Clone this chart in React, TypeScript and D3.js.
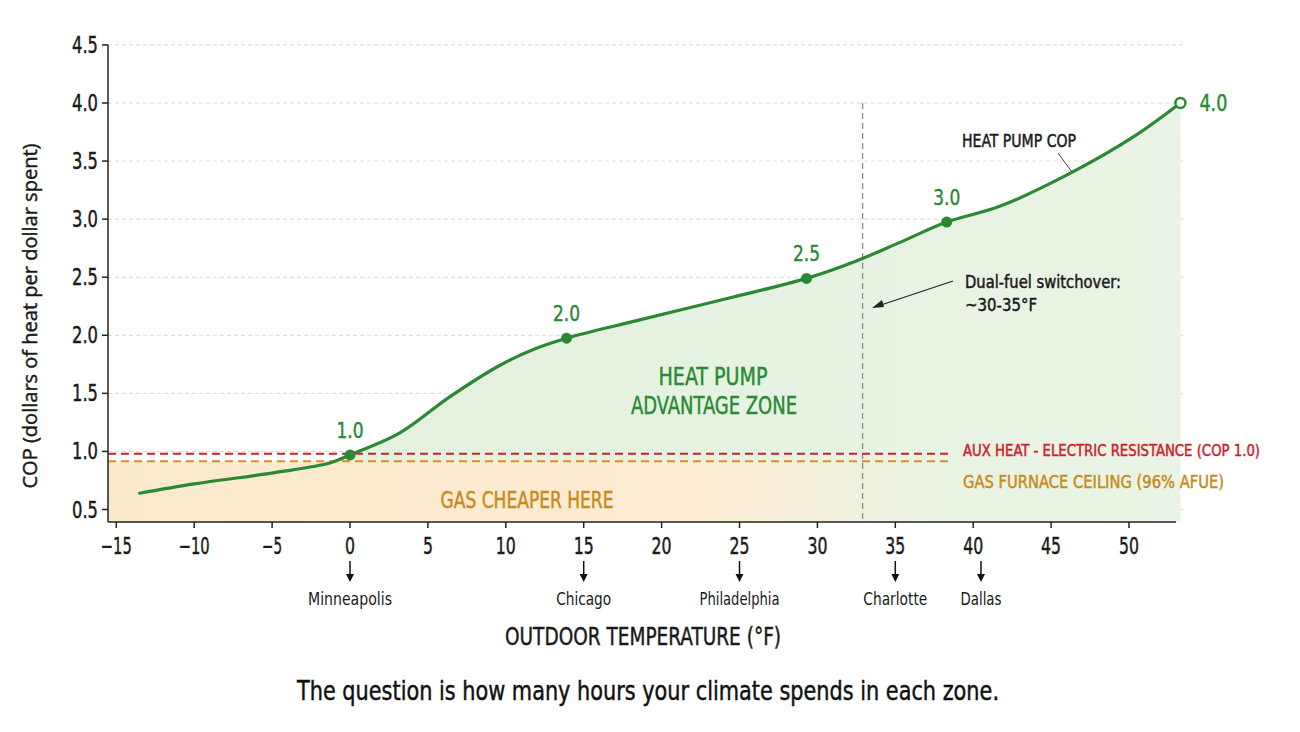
import React from "react";
import * as d3 from "d3";

const yTicks = [0.5, 1.0, 1.5, 2.0, 2.5, 3.0, 3.5, 4.0, 4.5];
const xTicks = [-15, -10, -5, 0, 5, 10, 15, 20, 25, 30, 35, 40, 45, 50];
const copTemps = [-13.5, -10, -4.75, -1.3, 0, 3.2, 6.4, 9.6, 11.8, 13.9, 18.2, 24.6, 29.3, 32.5, 35.3, 38.3, 41.7, 46.3, 50.3, 53.3];
const copValues = [0.64, 0.72, 0.82, 0.9, 0.97, 1.16, 1.47, 1.74, 1.88, 1.975, 2.12, 2.33, 2.49, 2.64, 2.8, 2.975, 3.11, 3.4, 3.71, 4.0];
const markedTemps = [0, 13.9, 29.3, 38.3];
const markedValues = [0.97, 1.975, 2.49, 2.975];
const markedLabels = ["1.0", "2.0", "2.5", "3.0"];
const cities = ["Minneapolis", "Chicago", "Philadelphia", "Charlotte", "Dallas"];
const cityTemps = [0, 15, 25, 35, 40.5];
const cityWidths = [84, 55, 80, 64, 41];
const auxLevel = 0.98;
const gasLevel = 0.915;
const switchover = 32.9;

const FONT = "'Liberation Sans Narrow', 'DejaVu Sans Condensed', 'Roboto', sans-serif";
const GREEN = "#2a8a34";
const RED = "#d0202a";
const ORANGE = "#c98a1c";

export default function App() {
  const W = 1300, H = 732;
  const x = d3.scaleLinear().domain([0, 50]).range([350, 1129]);
  const y = d3.scaleLinear().domain([0.5, 4.0]).range([509.5, 103]);
  const left = 108, right = 1176, bottom = 522;
  const pts: [number, number][] = copTemps.map((t, i) => [t, copValues[i]]);
  const curve = d3.curveCatmullRom.alpha(0.5);
  const line = d3.line<[number, number]>().x(d => x(d[0])).y(d => y(d[1])).curve(curve);
  const area = d3.area<[number, number]>().x(d => x(d[0])).y0(bottom).y1(d => y(d[1])).curve(curve);
  const lastT = copTemps[copTemps.length - 1];
  const lastV = copValues[copValues.length - 1];
  const areaPts = pts.filter(p => p[0] >= -1.3);
  const bold = (c: string) => ({ stroke: c, strokeWidth: 0.45 });

  return (
    <svg width={W} height={H} style={{ display: "block", margin: "-8px" }} fontFamily={FONT}>
      <defs>
        <linearGradient id="gasGrad" x1="0" x2="1" y1="0" y2="0">
          <stop offset="0%" stopColor="#fbe9cc" />
          <stop offset="70%" stopColor="#fdecd3" />
          <stop offset="100%" stopColor="#fdf0dc" stopOpacity="0" />
        </linearGradient>
        <linearGradient id="greenGrad" x1="0" x2="1" y1="0" y2="0">
          <stop offset="0%" stopColor="#e4f1de" />
          <stop offset="60%" stopColor="#e7f3e2" />
          <stop offset="100%" stopColor="#eaf4e6" />
        </linearGradient>
      </defs>
      <rect width={W} height={H} fill="#ffffff" />
      {yTicks.map(v => (
        <line key={"g" + v} x1={left} x2={1183} y1={y(v)} y2={y(v)} stroke="#d8d8d8" strokeDasharray="4,3" strokeWidth={1} />
      ))}
      <path d={area(areaPts) || ""} fill="url(#greenGrad)" />
      <rect x={left} y={y(gasLevel)} width={960 - left} height={bottom - y(gasLevel)} fill="url(#gasGrad)" />
      <line x1={x(switchover)} x2={x(switchover)} y1={y(4.0)} y2={bottom} stroke="#8c8c8c" strokeDasharray="6,4" strokeWidth={1.3} />
      <line x1={left} x2={948} y1={y(auxLevel)} y2={y(auxLevel)} stroke={RED} strokeDasharray="8,5" strokeWidth={2} />
      <line x1={left} x2={948} y1={y(gasLevel)} y2={y(gasLevel)} stroke={"#d8901f"} strokeDasharray="8,5" strokeWidth={2} />
      <path d={line(pts) || ""} fill="none" stroke={GREEN} strokeWidth={3.2} strokeLinecap="round" />
      {markedTemps.map((t, i) => (
        <g key={"m" + i}>
          <circle cx={x(t)} cy={y(markedValues[i])} r={5.5} fill={GREEN} />
          <text x={x(t)} y={y(markedValues[i]) - 17} textAnchor="middle" fontSize={22} fill={GREEN} {...bold(GREEN)} textLength={27} lengthAdjust="spacingAndGlyphs">{markedLabels[i]}</text>
        </g>
      ))}
      <circle cx={x(lastT)} cy={y(lastV)} r={5} fill="#ffffff" stroke={GREEN} strokeWidth={2.5} />
      <text x={x(lastT) + 19} y={y(lastV) + 8} fontSize={23} fill={GREEN} {...bold(GREEN)} textLength={28} lengthAdjust="spacingAndGlyphs">4.0</text>
      <text x={962} y={147} fontSize={17} fill="#1a1a1a" {...bold("#1a1a1a")} textLength={114} lengthAdjust="spacingAndGlyphs">HEAT PUMP COP</text>
      <line x1={1058} y1={153} x2={1072} y2={172} stroke="#444" strokeWidth={1} />
      <text x={965} y={288} fontSize={17} fill="#1a1a1a" {...bold("#1a1a1a")} textLength={156} lengthAdjust="spacingAndGlyphs">Dual-fuel switchover:</text>
      <text x={965} y={311} fontSize={17} fill="#1a1a1a" {...bold("#1a1a1a")} textLength={72} lengthAdjust="spacingAndGlyphs">~30-35°F</text>
      <line x1={953} y1={281} x2={878} y2={306} stroke="#222" strokeWidth={1.2} />
      <path d="M872,308 L882,300 L884,307 Z" fill="#222" />
      <text x={713} y={385} textAnchor="middle" fontSize={24} fill={GREEN} {...bold(GREEN)} textLength={109} lengthAdjust="spacingAndGlyphs">HEAT PUMP</text>
      <text x={714} y={414} textAnchor="middle" fontSize={24} fill={GREEN} {...bold(GREEN)} textLength={166} lengthAdjust="spacingAndGlyphs">ADVANTAGE ZONE</text>
      <text x={527} y={508} textAnchor="middle" fontSize={23} fill={ORANGE} {...bold(ORANGE)} textLength={173} lengthAdjust="spacingAndGlyphs">GAS CHEAPER HERE</text>
      <text x={963} y={456} fontSize={16} fill={RED} {...bold(RED)} textLength={297} lengthAdjust="spacingAndGlyphs">AUX HEAT - ELECTRIC RESISTANCE (COP 1.0)</text>
      <text x={963} y={488} fontSize={17} fill={ORANGE} {...bold(ORANGE)} textLength={261} lengthAdjust="spacingAndGlyphs">GAS FURNACE CEILING (96% AFUE)</text>
      <line x1={left} x2={left} y1={y(4.5)} y2={bottom} stroke="#222" strokeWidth={1.5} />
      <line x1={left} x2={right} y1={bottom} y2={bottom} stroke="#222" strokeWidth={1.5} />
      {yTicks.map(v => (
        <g key={"yt" + v}>
          <line x1={left - 6} x2={left} y1={y(v)} y2={y(v)} stroke="#222" strokeWidth={1.5} />
          <text x={left - 10} y={y(v) + 8} textAnchor="end" fontSize={23} fill="#1a1a1a" {...bold("#1a1a1a")} textLength={26} lengthAdjust="spacingAndGlyphs">{v.toFixed(1)}</text>
        </g>
      ))}
      {xTicks.map(t => {
        const s = t < 0 ? "\u2212" + Math.abs(t) : String(t);
        const w = s.length === 1 ? 10 : s.length === 2 ? 20 : 31;
        return (
          <g key={"xt" + t}>
            <line x1={x(t)} x2={x(t)} y1={bottom} y2={bottom + 6} stroke="#222" strokeWidth={1.5} />
            <text x={x(t)} y={bottom + 32} textAnchor="middle" fontSize={23} fill="#1a1a1a" {...bold("#1a1a1a")} textLength={w} lengthAdjust="spacingAndGlyphs">{s}</text>
          </g>
        );
      })}
      {cities.map((c, i) => (
        <g key={c}>
          <line x1={x(cityTemps[i])} x2={x(cityTemps[i])} y1={561} y2={578} stroke="#111" strokeWidth={1.5} />
          <path d={`M${x(cityTemps[i]) - 4},574 L${x(cityTemps[i]) + 4},574 L${x(cityTemps[i])},582 Z`} fill="#111" />
          <text x={x(cityTemps[i])} y={605} textAnchor="middle" fontSize={17} fill="#1a1a1a" textLength={cityWidths[i]} lengthAdjust="spacingAndGlyphs">{c}</text>
        </g>
      ))}
      <text x={643} y={645} textAnchor="middle" fontSize={25} fill="#1a1a1a" {...bold("#1a1a1a")} textLength={276} lengthAdjust="spacingAndGlyphs">OUTDOOR TEMPERATURE (°F)</text>
      <text transform="translate(37,316) rotate(-90)" textAnchor="middle" fontSize={20} fontFamily="'Open Sans', 'Liberation Sans', sans-serif" fill="#1a1a1a" {...bold("#1a1a1a")} textLength={345} lengthAdjust="spacingAndGlyphs">COP (dollars of heat per dollar spent)</text>
      <text x={648} y={700} textAnchor="middle" fontSize={27} fill="#111" {...bold("#111")} textLength={702} lengthAdjust="spacingAndGlyphs">The question is how many hours your climate spends in each zone.</text>
    </svg>
  );
}
